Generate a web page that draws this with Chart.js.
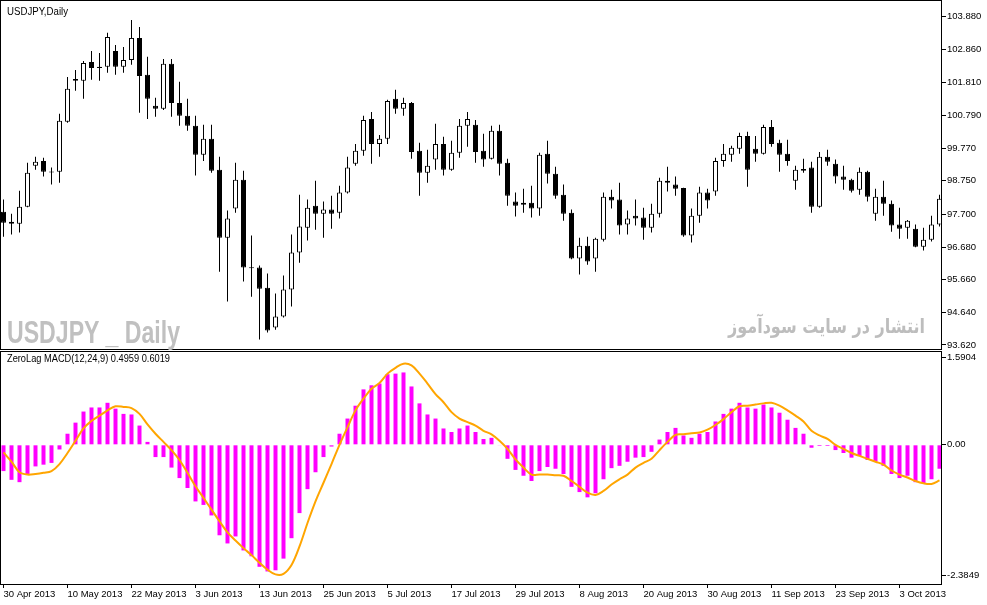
<!DOCTYPE html>
<html>
<head>
<meta charset="utf-8">
<script src="https://cdn.jsdelivr.net/npm/chart.js@4.4.1/dist/chart.umd.min.js"></script>
<style>
  html, body { margin: 0; padding: 0; background: #fff; }
  #wrap { position: relative; width: 987px; height: 605px; overflow: hidden; background: #fff; }
  canvas { position: absolute; left: 0; }
  #priceCanvas { top: -10px; }
  #macdCanvas { top: 345px; }
  .txt { position: absolute; white-space: nowrap; line-height: 1; transform-origin: 0 0; }
  .small { font-family: "Liberation Sans", Arial, sans-serif; font-size: 10px; color: #000; }
  #title { left: 7px; top: 7px; }
  #macdTitle { left: 7px; top: 354px; }
  #mark { left: 7px; top: 316px; font-family: "Liberation Sans", Arial, sans-serif; font-weight: bold; font-size: 32px; color: #c0c0c0; }
  #markFa { left: 728px; top: 316px; font-family: "DejaVu Sans", sans-serif; font-weight: bold; font-size: 20px; color: #bdbdbd; direction: rtl; }
</style>
</head>
<body>
<div id="wrap">
  <canvas id="priceCanvas" width="987" height="372"></canvas>
  <canvas id="macdCanvas" width="987" height="260"></canvas>
  <div id="title" class="txt small">USDJPY,Daily</div>
  <div id="macdTitle" class="txt small">ZeroLag MACD(12,24,9) 0.4959 0.6019</div>
  <div id="mark" class="txt">USDJPY _ Daily</div>
  <div id="markFa" class="txt" dir="rtl">انتشار در سایت سودآموز</div>
</div>
<script>
// daily candles, 30 Apr 2013 onwards
const opens = [
  97.78, 97.47, 97.41, 97.94, 99.22, 99.37, 99.04, 99.03, 100.59, 101.93,
  101.87, 102.46, 102.31, 102.31, 102.80, 102.31, 102.52, 103.21, 102.06, 101.09,
  101.00, 102.40, 101.18, 100.78, 100.47, 99.56, 100.06, 99.09, 96.97, 97.88,
  98.78, 96.05, 96.04, 95.41, 94.17, 94.51, 95.35, 96.51, 97.28, 97.97,
  97.72, 97.85, 97.75, 98.38, 99.28, 99.69, 100.68, 99.90, 100.06, 101.31,
  101.00, 101.18, 99.69, 99.00, 99.41, 99.90, 99.09, 99.62, 100.47, 100.50,
  99.69, 99.44, 100.31, 99.31, 98.10, 98.00, 98.06, 97.88, 99.59, 98.97,
  98.31, 97.75, 96.32, 96.72, 96.32, 96.91, 98.25, 98.16, 97.38, 97.66,
  97.60, 97.28, 97.72, 98.75, 98.63, 98.52, 97.04, 97.66, 98.38, 98.41,
  99.37, 99.56, 99.75, 100.15, 99.75, 99.59, 100.43, 99.94, 99.59, 98.75,
  99.06, 99.16, 97.94, 99.50, 99.28, 98.88, 98.78, 98.47, 99.03, 97.72,
  98.25, 98.03, 97.38, 97.28, 97.25, 96.69, 96.91, 97.38
];
const highs = [
  98.16, 97.72, 98.44, 99.31, 99.50, 99.47, 99.16, 100.84, 101.99, 102.21,
  102.49, 102.80, 102.74, 103.37, 102.99, 102.93, 103.77, 103.55, 102.62, 101.34,
  102.55, 102.55, 101.84, 101.31, 100.78, 100.50, 100.50, 99.50, 97.82, 99.31,
  99.06, 97.04, 96.10, 95.85, 95.23, 95.79, 97.07, 98.31, 98.16, 98.75,
  98.10, 98.28, 98.59, 99.50, 99.90, 100.78, 100.90, 100.18, 101.28, 101.59,
  101.34, 101.21, 99.94, 99.72, 100.53, 100.12, 100.00, 100.68, 100.90, 100.65,
  100.22, 100.47, 100.50, 99.44, 98.38, 98.50, 98.59, 99.62, 100.00, 99.19,
  98.63, 97.85, 96.97, 97.00, 96.97, 98.38, 98.47, 98.69, 97.82, 98.16,
  97.91, 98.03, 98.84, 99.19, 98.88, 98.53, 97.88, 98.56, 98.50, 99.47,
  99.90, 99.84, 100.25, 100.28, 100.15, 100.50, 100.65, 100.03, 100.03, 99.22,
  99.44, 99.34, 99.65, 99.72, 99.41, 99.22, 98.81, 99.16, 99.06, 98.50,
  98.75, 98.13, 97.91, 97.52, 97.38, 97.28, 97.66, 98.31
];
const lows = [
  97.00, 97.07, 97.13, 97.92, 99.09, 98.88, 98.63, 98.69, 100.56, 101.56,
  101.31, 101.90, 101.87, 102.12, 102.06, 102.12, 102.37, 100.87, 100.68, 100.75,
  100.96, 100.75, 100.47, 100.31, 98.91, 99.37, 99.00, 95.91, 94.98, 97.75,
  95.60, 95.13, 93.79, 94.01, 94.10, 94.48, 94.82, 96.19, 96.88, 97.22,
  96.97, 97.25, 97.57, 98.35, 99.22, 99.53, 99.28, 99.50, 99.90, 100.84,
  100.78, 99.44, 98.28, 98.69, 99.09, 98.91, 99.06, 99.47, 99.81, 99.31,
  99.19, 99.41, 98.91, 97.97, 97.63, 97.75, 97.60, 97.66, 98.66, 98.19,
  97.50, 96.30, 95.82, 96.13, 95.91, 96.85, 97.88, 97.07, 97.07, 97.35,
  96.91, 97.13, 97.60, 98.41, 98.28, 97.00, 96.82, 97.44, 97.88, 98.28,
  99.19, 99.34, 99.59, 98.56, 99.34, 99.57, 99.81, 99.03, 99.22, 98.47,
  99.00, 97.75, 97.91, 99.22, 98.66, 98.47, 98.38, 98.31, 98.10, 97.50,
  97.66, 97.16, 96.94, 96.94, 96.67, 96.57, 96.85, 97.32
];
const closes = [
  97.44, 97.41, 97.94, 99.00, 99.34, 99.03, 99.01, 100.62, 101.62, 101.87,
  102.43, 102.27, 102.27, 103.24, 102.31, 102.52, 103.21, 102.02, 101.31, 101.00,
  102.40, 101.18, 100.78, 100.47, 99.56, 100.06, 99.06, 96.97, 97.57, 98.78,
  96.04, 96.02, 95.38, 94.07, 94.51, 95.35, 96.51, 97.32, 97.91, 97.72,
  97.85, 97.72, 98.38, 99.16, 99.69, 100.65, 99.90, 100.06, 101.24, 101.00,
  101.18, 99.65, 99.00, 99.22, 99.90, 99.09, 99.62, 100.47, 100.68, 99.65,
  99.41, 100.31, 99.28, 98.28, 97.97, 98.06, 97.88, 99.56, 98.97, 98.28,
  97.72, 96.32, 96.72, 96.23, 96.94, 98.25, 98.13, 97.35, 97.57, 97.57,
  97.28, 97.72, 98.75, 98.69, 98.50, 97.04, 97.66, 98.38, 98.13, 99.37,
  99.59, 99.78, 100.15, 99.09, 99.59, 100.43, 99.90, 99.56, 99.37, 99.09,
  99.12, 97.94, 99.50, 99.34, 98.88, 98.78, 98.44, 99.03, 98.25, 98.25,
  98.03, 97.35, 97.25, 97.50, 96.69, 96.91, 97.38, 98.19
];

// ZeroLag MACD(12,24,9)
const histogram = [
  -0.45, -0.60, -0.64, -0.51, -0.37, -0.34, -0.31, -0.08, 0.19, 0.38,
  0.57, 0.64, 0.64, 0.72, 0.62, 0.53, 0.52, 0.33, 0.05, -0.21,
  -0.21, -0.39, -0.57, -0.74, -0.97, -1.03, -1.21, -1.55, -1.69, -1.57,
  -1.81, -1.91, -2.09, -2.17, -2.15, -1.95, -1.60, -1.17, -0.76, -0.47,
  -0.21, -0.03, 0.19, 0.45, 0.67, 0.95, 1.02, 1.05, 1.21, 1.22,
  1.24, 1.00, 0.71, 0.52, 0.45, 0.28, 0.22, 0.28, 0.33, 0.22,
  0.10, 0.12, -0.01, -0.24, -0.43, -0.53, -0.62, -0.45, -0.38, -0.41,
  -0.50, -0.72, -0.81, -0.90, -0.83, -0.59, -0.40, -0.36, -0.29, -0.22,
  -0.21, -0.12, 0.09, 0.22, 0.29, 0.16, 0.12, 0.19, 0.22, 0.40,
  0.53, 0.62, 0.72, 0.64, 0.62, 0.69, 0.64, 0.55, 0.43, 0.29,
  0.19, -0.05, -0.02, -0.02, -0.09, -0.14, -0.22, -0.19, -0.26, -0.29,
  -0.36, -0.50, -0.57, -0.53, -0.64, -0.66, -0.59, -0.41
];
const signal = [
  -0.13, -0.29, -0.47, -0.51, -0.50, -0.48, -0.45, -0.33, -0.14, 0.07,
  0.28, 0.41, 0.50, 0.59, 0.66, 0.65, 0.63, 0.53, 0.35, 0.19,
  0.05, -0.09, -0.26, -0.48, -0.71, -0.91, -1.11, -1.31, -1.50, -1.64,
  -1.77, -1.89, -2.02, -2.14, -2.22, -2.21, -2.06, -1.74, -1.34, -0.97,
  -0.65, -0.33, 0.00, 0.30, 0.59, 0.79, 0.96, 1.06, 1.22, 1.32,
  1.39, 1.36, 1.22, 1.05, 0.87, 0.73, 0.56, 0.45, 0.39, 0.33,
  0.24, 0.18, 0.07, -0.07, -0.25, -0.39, -0.51, -0.51, -0.51, -0.52,
  -0.53, -0.62, -0.72, -0.82, -0.86, -0.79, -0.68, -0.59, -0.51, -0.39,
  -0.31, -0.24, -0.09, 0.05, 0.17, 0.18, 0.20, 0.21, 0.26, 0.34,
  0.44, 0.56, 0.66, 0.67, 0.69, 0.71, 0.72, 0.67, 0.59, 0.50,
  0.40, 0.24, 0.16, 0.10, 0.00, -0.07, -0.14, -0.19, -0.24, -0.29,
  -0.34, -0.44, -0.51, -0.56, -0.62, -0.66, -0.67, -0.61
];

// axis labels
const dateLabels = ['30 Apr 2013', '10 May 2013', '22 May 2013', '3 Jun 2013', '13 Jun 2013',
  '25 Jun 2013', '5 Jul 2013', '17 Jul 2013', '29 Jul 2013', '8 Aug 2013',
  '20 Aug 2013', '30 Aug 2013', '11 Sep 2013', '23 Sep 2013', '3 Oct 2013'];
const priceTicks = [103.880, 102.860, 101.810, 100.790, 99.770, 98.750, 97.700, 96.680, 95.660, 94.640, 93.620];
const macdTicks = [1.5904, 0.00, -2.3849];
const macdTickText = ['1.5904', '0.00', '-2.3849'];

const labelEvery = 8;
const xMin = -0.3125, xMax = 117.3125;
const axisFont = { family: 'Liberation Sans', size: 9.5 };

const framePlugin = {
    id: 'frame',
    afterDatasetsDraw(chart) {
        const { ctx, chartArea: { left, top, right, bottom } } = chart;
        ctx.save();
        ctx.strokeStyle = '#000';
        ctx.lineWidth = 1;
        ctx.strokeRect(left - 0.5, top - 0.5, right - left, bottom - top + 1);
        ctx.restore();
    }
};

const sideAxis = (extra) => Object.assign({
    position: 'right',
    afterFit: s => { s.width = 45; },
    border: { display: false },
    grid: { display: true, drawOnChartArea: false, drawTicks: true, tickLength: 4, color: '#000' },
    ticks: { autoSkip: false, padding: 1, color: '#000', font: axisFont }
}, extra);

new Chart(document.getElementById('priceCanvas'), {
    type: 'bar',
    data: {
        datasets: [
            {
                label: 'body',
                data: opens.map((o, i) => ({ x: i, y: [o, closes[i]] })),
                backgroundColor: opens.map((o, i) => closes[i] >= o ? '#ffffff' : '#000000'),
                borderColor: '#000',
                borderWidth: 1,
                borderSkipped: false,
                inflateAmount: 0,
                barThickness: 5,
                grouped: false,
                order: 0
            },
            {
                label: 'wick',
                data: lows.map((l, i) => ({ x: i, y: [l, highs[i]] })),
                backgroundColor: '#000',
                borderWidth: 0,
                inflateAmount: 0,
                barThickness: 1,
                grouped: false,
                order: 1
            }
        ]
    },
    options: {
        responsive: false,
        animation: false,
        devicePixelRatio: 1,
        layout: { padding: { left: 1, top: 11, right: 0, bottom: 13 } },
        plugins: { legend: { display: false }, tooltip: { enabled: false } },
        scales: {
            x: { type: 'linear', display: false, min: xMin, max: xMax, offset: false, grid: { offset: false } },
            y: sideAxis({
                min: 93.495,
                max: 104.363,
                afterBuildTicks: s => { s.ticks = priceTicks.map(v => ({ value: v })); },
                ticks: { autoSkip: false, padding: 1, color: '#000', font: axisFont, callback: v => v.toFixed(3) }
            })
        }
    },
    plugins: [framePlugin]
});

new Chart(document.getElementById('macdCanvas'), {
    type: 'bar',
    data: {
        datasets: [
            {
                type: 'line',
                label: 'signal',
                data: signal.map((v, i) => ({ x: i, y: v })),
                borderColor: '#FFA500',
                borderWidth: 2,
                pointRadius: 0,
                tension: 0.35,
                order: 0
            },
            {
                type: 'bar',
                label: 'macd',
                data: histogram.map((v, i) => ({ x: i, y: v })),
                backgroundColor: '#FF00FF',
                borderWidth: 0,
                inflateAmount: 0,
                barThickness: 4,
                grouped: false,
                order: 1
            }
        ]
    },
    options: {
        responsive: false,
        animation: false,
        devicePixelRatio: 1,
        layout: { padding: { left: 1, top: 7, right: 0, bottom: 0 } },
        plugins: { legend: { display: false }, tooltip: { enabled: false } },
        scales: {
            x: {
                type: 'linear',
                min: xMin,
                max: xMax,
                offset: false,
                afterBuildTicks: s => { s.ticks = dateLabels.map((d, k) => ({ value: k * labelEvery })); },
                afterFit: s => { s.height = 21; },
                border: { display: false },
                grid: { display: true, offset: false, drawOnChartArea: false, drawTicks: true, tickLength: 4, color: '#000' },
                ticks: {
                    align: 'start', maxRotation: 0, autoSkip: false, padding: 1, color: '#000', font: axisFont,
                    callback: (v, idx) => dateLabels[idx]
                }
            },
            y: sideAxis({
                min: macdTicks[2],
                max: macdTicks[0],
                // MT4 keeps the extreme labels just inside the panel
                afterBuildTicks: s => {
                    s.ticks = [{ value: macdTicks[0] - 0.1 }, { value: macdTicks[1] }, { value: macdTicks[2] + 0.14 }];
                },
                ticks: { autoSkip: false, padding: 1, color: '#000', font: axisFont, callback: (v, idx) => macdTickText[idx] }
            })
        }
    },
    plugins: [framePlugin]
});

function fitWidth(id, w) {
    const el = document.getElementById(id);
    const r = el.getBoundingClientRect().width;
    if (r > 0) el.style.transform = 'scaleX(' + (w / r) + ')';
}
fitWidth('title', 61);
fitWidth('macdTitle', 163);
fitWidth('mark', 173);
fitWidth('markFa', 197);
</script>
</body>
</html>
